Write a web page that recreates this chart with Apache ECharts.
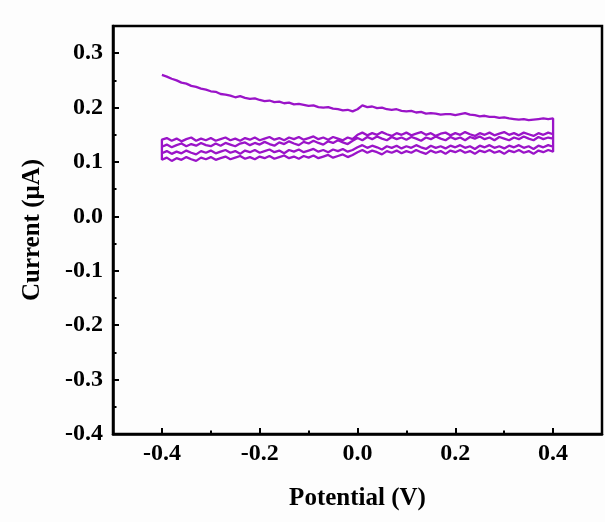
<!DOCTYPE html>
<html><head><meta charset="utf-8">
<script src="https://cdn.jsdelivr.net/npm/echarts@6/dist/echarts.min.js"></script>
<style>html,body{margin:0;padding:0;background:#fdfdfd}#c{width:605px;height:522px}</style>
</head><body><div id="c"></div><script>
// Potential grid (V) shared by every sweep
const potential = [-0.40,-0.39,-0.38,-0.37,-0.36,-0.35,-0.34,-0.33,-0.32,-0.31,
-0.30,-0.29,-0.28,-0.27,-0.26,-0.25,-0.24,-0.23,-0.22,-0.21,
-0.20,-0.19,-0.18,-0.17,-0.16,-0.15,-0.14,-0.13,-0.12,-0.11,
-0.10,-0.09,-0.08,-0.07,-0.06,-0.05,-0.04,-0.03,-0.02,-0.01,
0.00,0.01,0.02,0.03,0.04,0.05,0.06,0.07,0.08,0.09,
0.10,0.11,0.12,0.13,0.14,0.15,0.16,0.17,0.18,0.19,
0.20,0.21,0.22,0.23,0.24,0.25,0.26,0.27,0.28,0.29,
0.30,0.31,0.32,0.33,0.34,0.35,0.36,0.37,0.38,0.39,0.40];

// Currents (µA), listed from -0.4 V to 0.4 V
const sweepTop = [0.260,0.257,0.253,0.250,0.246,0.244,0.240,0.238,0.235,0.233,
0.230,0.229,0.225,0.224,0.222,0.219,0.221,0.218,0.216,0.217,
0.214,0.212,0.213,0.210,0.211,0.208,0.209,0.206,0.207,0.205,
0.203,0.204,0.201,0.200,0.201,0.198,0.197,0.195,0.196,0.193,
0.197,0.204,0.201,0.202,0.199,0.200,0.197,0.196,0.197,0.194,
0.193,0.194,0.191,0.192,0.189,0.190,0.189,0.187,0.188,0.188,
0.186,0.188,0.190,0.187,0.186,0.184,0.185,0.183,0.183,0.181,
0.182,0.180,0.179,0.178,0.179,0.177,0.178,0.179,0.180,0.179,0.180];

const sweepA = [0.141,0.144,0.139,0.143,0.138,0.142,0.145,0.139,0.143,0.140,
0.144,0.139,0.142,0.145,0.140,0.143,0.139,0.144,0.141,0.145,
0.140,0.143,0.146,0.141,0.144,0.140,0.145,0.142,0.146,0.141,
0.144,0.147,0.142,0.145,0.141,0.146,0.143,0.140,0.145,0.142,
0.150,0.154,0.149,0.153,0.150,0.155,0.151,0.148,0.153,0.150,
0.154,0.149,0.152,0.155,0.150,0.153,0.148,0.152,0.154,0.149,
0.153,0.150,0.155,0.151,0.148,0.153,0.150,0.154,0.149,0.152,
0.155,0.150,0.153,0.149,0.154,0.151,0.148,0.153,0.150,0.154,0.151];

const sweepB = [0.128,0.132,0.127,0.131,0.134,0.129,0.133,0.130,0.135,0.131,
0.129,0.134,0.130,0.135,0.132,0.129,0.134,0.136,0.131,0.135,
0.132,0.137,0.133,0.130,0.136,0.133,0.138,0.134,0.131,0.137,
0.134,0.139,0.135,0.132,0.138,0.135,0.140,0.136,0.133,0.139,
0.144,0.140,0.146,0.142,0.147,0.143,0.140,0.146,0.142,0.145,
0.141,0.146,0.143,0.139,0.145,0.142,0.147,0.143,0.140,0.146,
0.142,0.145,0.140,0.146,0.143,0.147,0.142,0.145,0.140,0.146,
0.143,0.140,0.145,0.142,0.147,0.143,0.140,0.146,0.142,0.145,0.143];

const sweepC = [0.116,0.120,0.115,0.119,0.116,0.121,0.117,0.114,0.120,0.117,
0.121,0.116,0.119,0.122,0.117,0.120,0.115,0.121,0.118,0.122,
0.117,0.120,0.123,0.118,0.121,0.116,0.122,0.119,0.123,0.118,
0.121,0.124,0.119,0.122,0.118,0.123,0.120,0.124,0.119,0.122,
0.127,0.131,0.126,0.130,0.127,0.123,0.129,0.126,0.130,0.125,
0.129,0.126,0.131,0.127,0.124,0.130,0.126,0.129,0.125,0.130,
0.127,0.131,0.126,0.129,0.124,0.130,0.127,0.131,0.126,0.129,
0.125,0.130,0.127,0.131,0.126,0.129,0.124,0.130,0.127,0.131,0.128];

const sweepD = [0.104,0.108,0.102,0.107,0.104,0.109,0.105,0.102,0.108,0.105,
0.109,0.104,0.107,0.110,0.105,0.108,0.111,0.106,0.109,0.105,
0.110,0.107,0.111,0.106,0.109,0.112,0.107,0.110,0.106,0.111,
0.108,0.112,0.107,0.110,0.113,0.108,0.111,0.114,0.109,0.113,
0.118,0.122,0.117,0.121,0.118,0.114,0.120,0.117,0.121,0.116,
0.120,0.117,0.122,0.118,0.115,0.121,0.117,0.120,0.115,0.121,
0.118,0.122,0.117,0.120,0.115,0.121,0.118,0.122,0.117,0.120,
0.115,0.121,0.118,0.122,0.117,0.120,0.115,0.121,0.118,0.122,0.119];

// Tick values
const xMajorTicks = [-0.4,-0.2,0.0,0.2,0.4];
const xMinorTicks = [-0.3,-0.1,0.1,0.3];
const yMajorTicks = [-0.4,-0.3,-0.2,-0.1,0.0,0.1,0.2,0.3];
const yMinorTicks = [-0.35,-0.25,-0.15,-0.05,0.05,0.15,0.25];

// Build one continuous trace: forward, reverse, forward, ...
function fwd(arr){ return potential.map((p,i)=>[p,arr[i]]); }
function rev(arr){ return fwd(arr).reverse(); }
const trace = [].concat(fwd(sweepTop), rev(sweepD), fwd(sweepA), rev(sweepC), fwd(sweepB));

const FONT = "'Liberation Serif','Times New Roman',serif";
const chart = echarts.init(document.getElementById('c'), null, {renderer:'canvas'});
const gridRect = {left:113, top:26, right:3, bottom:88};
const X_MIN=-0.5, X_MAX=0.5, Y_MIN=-0.4, Y_MAX=0.35;

function tickX(grid, vals, len){
  return {type:'value', gridIndex:grid, min:X_MIN, max:X_MAX, interval:0.1,
    axisLine:{show:false, onZero:false},
    axisTick:{show:true, inside:true, length:len, lineStyle:{color:'#000', width:2}, customValues:vals},
    axisLabel:{show:false}, splitLine:{show:false}};
}
function tickY(grid, vals, len){
  return {type:'value', gridIndex:grid, min:Y_MIN, max:Y_MAX, interval:0.1,
    axisLine:{show:false, onZero:false},
    axisTick:{show:true, inside:true, length:len, lineStyle:{color:'#000', width:2}, customValues:vals},
    axisLabel:{show:false}, splitLine:{show:false}};
}

chart.setOption({
  backgroundColor:'#fdfdfd',
  animation:false,
  grid:[
    Object.assign({show:true, borderColor:'#000', borderWidth:2.5, backgroundColor:'transparent', containLabel:false}, gridRect),
    Object.assign({show:false, containLabel:false}, gridRect),
    Object.assign({show:false, containLabel:false}, gridRect)
  ],
  xAxis:[{
    type:'value', gridIndex:0, min:X_MIN, max:X_MAX, interval:0.1,
    name:'Potential (V)', nameLocation:'middle', nameGap:52,
    nameTextStyle:{fontFamily:FONT, fontWeight:'bold', fontSize:25, color:'#000'},
    axisLine:{show:true, onZero:false, lineStyle:{color:'#000', width:2.5}},
    axisTick:{show:false},
    axisLabel:{show:true, margin:8, fontFamily:FONT, fontWeight:'bold', fontSize:24, color:'#000',
      customValues:xMajorTicks, formatter:v=>v.toFixed(1)},
    splitLine:{show:false}
  }, tickX(1, xMinorTicks, 3.5), tickX(2, xMajorTicks, 6)],
  yAxis:[{
    type:'value', gridIndex:0, min:Y_MIN, max:Y_MAX, interval:0.1,
    name:'Current (μA)', nameLocation:'middle', nameGap:68,
    nameTextStyle:{fontFamily:FONT, fontWeight:'bold', fontSize:25, color:'#000'},
    axisLine:{show:true, onZero:false, lineStyle:{color:'#000', width:2.5}},
    axisTick:{show:false},
    axisLabel:{show:true, margin:10, fontFamily:FONT, fontWeight:'bold', fontSize:24, color:'#000',
      customValues:yMajorTicks, formatter:v=>v.toFixed(1)},
    splitLine:{show:false}
  }, tickY(1, yMinorTicks, 3.5), tickY(2, yMajorTicks, 6)],
  series:[{
    type:'line', xAxisIndex:0, yAxisIndex:0, data:trace,
    showSymbol:false, symbol:'none', smooth:false,
    lineStyle:{color:'#9a14c8', width:2.3}
  }]
});
</script></body></html>
